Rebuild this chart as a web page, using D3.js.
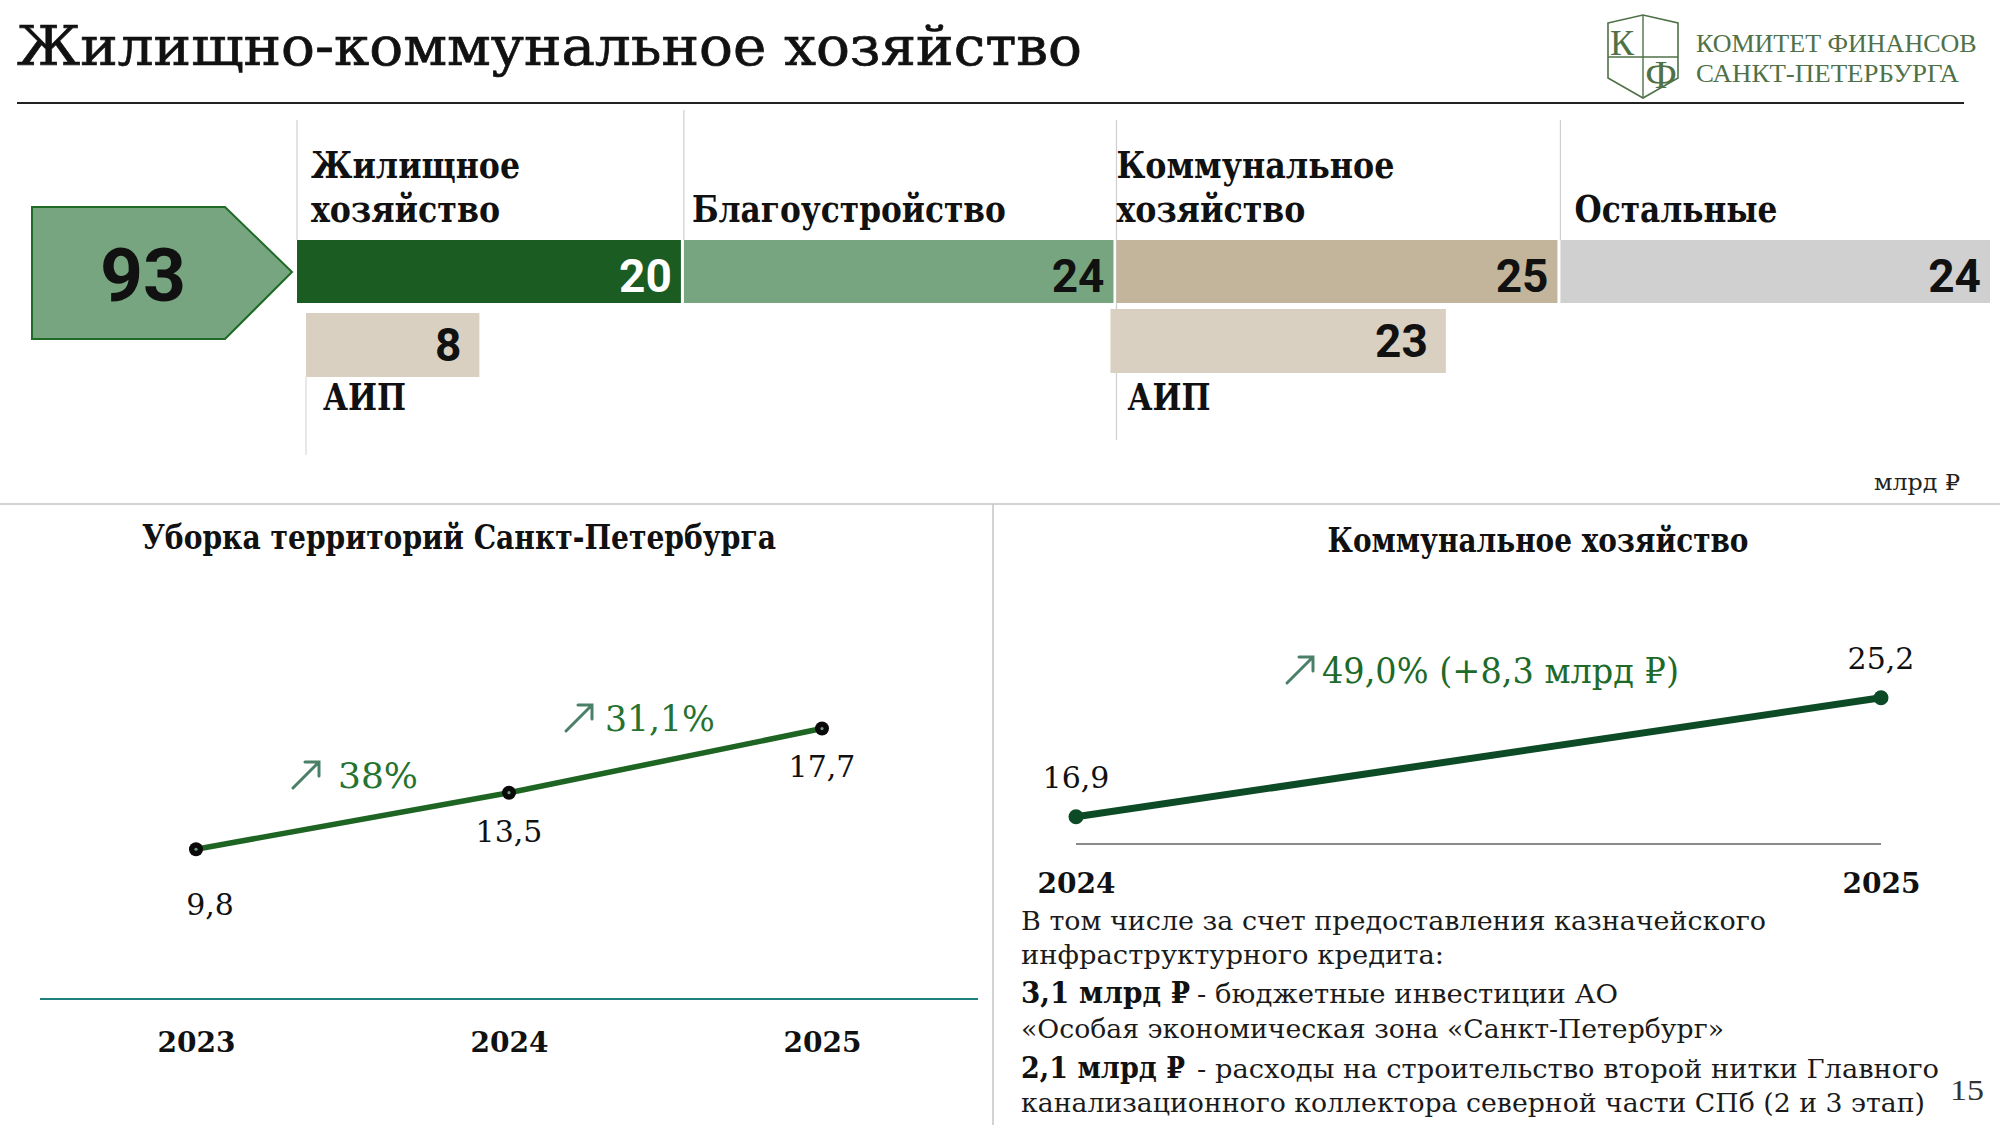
<!DOCTYPE html>
<html><head><meta charset="utf-8">
<script src="https://cdn.jsdelivr.net/npm/d3@7"></script>
<style>html,body{margin:0;padding:0;background:#fff;overflow:hidden}</style>
</head><body>
<svg id="c" width="2000" height="1125"></svg>
<script>
// ---------------- DATA ----------------
const pageTitle = "Жилищно-коммунальное хозяйство";
const logoLines = ["КОМИТЕТ ФИНАНСОВ", "САНКТ-ПЕТЕРБУРГА"];
const totalValue = 93;
const categories = [["Жилищное", "хозяйство"], ["Благоустройство"], ["Коммунальное", "хозяйство"], ["Остальные"]];
const categoryValues = [20, 24, 25, 24];
const aipCategoryIndex = [0, 2];
const aipValues = [8, 23];
const aipLabel = "АИП";
const unitLabel = "млрд ₽";

const cleaningTitle = "Уборка территорий Санкт-Петербурга";
const cleaningYears = ["2023", "2024", "2025"];
const cleaningValues = [9.8, 13.5, 17.7];
const cleaningGrowth = ["38%", "31,1%"];

const communalTitle = "Коммунальное хозяйство";
const communalYears = ["2024", "2025"];
const communalValues = [16.9, 25.2];
const communalGrowth = "49,0% (+8,3 млрд ₽)";
const noteLines = [
  ["", "В том числе за счет предоставления казначейского"],
  ["", "инфраструктурного кредита:"],
  ["3,1 млрд ₽", "- бюджетные инвестиции АО"],
  ["", "«Особая экономическая зона «Санкт-Петербург»"],
  ["2,1 млрд ₽", "- расходы на строительство второй нитки Главного"],
  ["", "канализационного коллектора северной части СПб (2 и 3 этап)"]
];
const pageNumber = "15";

// ---------------- HELPERS ----------------
const SERIF = "'DejaVu Serif', 'Liberation Serif', serif";
const TIMES = "'Liberation Serif', 'DejaVu Serif', serif";
const SANS = "Roboto, 'Noto Sans', sans-serif";
const ru = d3.formatLocale({decimal: ",", thousands: " ", grouping: [3], currency: ["", " ₽"]});
const fmt1 = ru.format(".1f");
const svg = d3.select("#c");

function txt(g, s, x, y, o) {
  const t = g.append("text").attr("x", x).attr("y", y).text(s)
    .style("font-family", o.family || SERIF)
    .style("font-size", o.size + "px")
    .style("font-weight", o.weight || 400)
    .attr("fill", o.fill || "#111")
    .attr("text-anchor", o.anchor || "start");
  if (o.stroke) t.attr("stroke", o.fill || "#111").attr("stroke-width", o.stroke);
  if (o.width) {
    const w = t.node().getComputedTextLength();
    if (Math.abs(w - o.width) > 1.5) t.attr("textLength", o.width).attr("lengthAdjust", "spacingAndGlyphs");
  }
  return t;
}

// ---------------- HEADER ----------------
txt(svg, pageTitle, 17, 65, {size: 55, width: 1065, fill: "#111", stroke: 0.7});
svg.append("line").attr("x1", 17).attr("x2", 1964).attr("y1", 103).attr("y2", 103)
  .attr("stroke", "#222").attr("stroke-width", 2);

// logo
const logo = svg.append("g");
const lc = "#4f7148";
logo.append("path")
  .attr("d", "M1608,23 L1643,15 L1678,23 L1678,78 L1643,98 L1608,78 Z")
  .attr("fill", "none").attr("stroke", lc).attr("stroke-width", 1.6);
logo.append("line").attr("x1", 1643).attr("x2", 1643).attr("y1", 15).attr("y2", 98).attr("stroke", lc).attr("stroke-width", 1.4);
logo.append("line").attr("x1", 1608).attr("x2", 1678).attr("y1", 57).attr("y2", 57).attr("stroke", lc).attr("stroke-width", 1.4);
txt(logo, "К", 1610, 55, {size: 36, family: TIMES, fill: lc});
txt(logo, "Ф", 1661, 88, {size: 40, family: TIMES, fill: lc, anchor: "middle"});
txt(logo, logoLines[0], 1696, 52, {size: 26, family: TIMES, fill: lc, width: 282});
txt(logo, logoLines[1], 1696, 82, {size: 26, family: TIMES, fill: lc, width: 263});

// ---------------- TOP STRUCTURE ----------------
const topG = svg.append("g");
// total arrow
topG.append("path")
  .attr("d", "M32,207 L225,207 L292,272 L225,339 L32,339 Z")
  .attr("fill", "#76a580").attr("stroke", "#1f6a27").attr("stroke-width", 2);
txt(topG, String(totalValue), 143, 301, {size: 75, family: SANS, weight: 700, anchor: "middle", fill: "#111"});

const barX0 = 297, barX1 = 1993, barBase = 158.6, barGap = 3, barY = 240, barH = 63;
const cum = d3.cumsum(categoryValues);
const xVal = d3.scaleLinear().domain([0, d3.sum(categoryValues)])
  .range([0, (barX1 - barX0) - categoryValues.length * barBase]);
const barColors = ["#1a5c21", "#76a580", "#c3b59b", "#d0d0d0"];
const valColors = ["#ffffff", "#111", "#111", "#111"];
const labelDx = [14, 8, 0, 14];
const sepTop = [120, 110, 120, 120];
const sepBottom = [barY, barY, 440, barY];
const barData = categoryValues.map((v, i) => ({
  v, i, x: barX0 + i * barBase + xVal(cum[i] - v), w: barBase + xVal(v) - barGap
}));

topG.selectAll("line.sep").data(barData).enter().append("line")
  .attr("x1", d => d.x).attr("x2", d => d.x)
  .attr("y1", d => sepTop[d.i]).attr("y2", d => sepBottom[d.i])
  .attr("stroke", "#cfcfcf").attr("stroke-width", 1.2);

topG.selectAll("rect.bar").data(barData).enter().append("rect")
  .attr("x", d => d.x).attr("y", barY).attr("width", d => d.w).attr("height", barH)
  .attr("fill", d => barColors[d.i]);

barData.forEach(d => {
  txt(topG, String(d.v), d.x + d.w - 9, barY + 52, {size: 46, family: SANS, weight: 700, anchor: "end", fill: valColors[d.i]});
  const lines = categories[d.i];
  const lw = [[209, 189], [314], [278, 189], [203]][d.i];
  lines.forEach((s, k) => {
    const base = 222 - (lines.length - 1 - k) * 44;
    txt(topG, s, d.x + labelDx[d.i], base, {size: 37, weight: 700, width: lw[k]});
  });
});

// AIP sub-bars
const aipW = d3.scaleLinear().domain([0, 25]).range([87, 357]);
const aipDx = [9, -6], aipTop = [313, 309];
aipValues.forEach((v, k) => {
  const b = barData[aipCategoryIndex[k]];
  const x = b.x + aipDx[k], y = aipTop[k], w = aipW(v);
  if (k === 0) topG.append("line").attr("x1", x).attr("x2", x).attr("y1", y + 64).attr("y2", 455)
    .attr("stroke", "#d8d8d8").attr("stroke-width", 1.2);
  topG.append("rect").attr("x", x).attr("y", y).attr("width", w).attr("height", 64).attr("fill", "#d9d0c1");
  txt(topG, String(v), x + w - 18, y + 48, {size: 46, family: SANS, weight: 700, anchor: "end"});
  txt(topG, aipLabel, x + 17, 410, {size: 37, weight: 700, width: 83});
});

txt(svg, unitLabel, 1960, 490, {size: 22, anchor: "end", fill: "#222", width: 86});

// section separators
svg.append("line").attr("x1", 0).attr("x2", 2000).attr("y1", 504).attr("y2", 504).attr("stroke", "#c4c4c4").attr("stroke-width", 1.5);
svg.append("line").attr("x1", 993).attr("x2", 993).attr("y1", 504).attr("y2", 1125).attr("stroke", "#c4c4c4").attr("stroke-width", 1.5);

// ---------------- LEFT LINE CHART ----------------
const L = svg.append("g");
txt(L, cleaningTitle, 142, 549, {size: 33, weight: 700, width: 634});
const xL = d3.scalePoint().domain(cleaningYears).range([196, 822]);
const yL = d3.scaleLinear().domain([0, 20]).range([999, 693.4]);
L.append("line").attr("x1", 40).attr("x2", 978).attr("y1", yL(0)).attr("y2", yL(0))
  .attr("stroke", "#1f7f7c").attr("stroke-width", 2.2);
const axL = L.append("g").attr("transform", `translate(0,${yL(0)})`)
  .call(d3.axisBottom(xL).tickSize(0));
axL.select(".domain").remove();
axL.selectAll("text").attr("y", 53).attr("dy", 0)
  .style("font-family", SERIF).style("font-size", "28px").style("font-weight", 700).attr("fill", "#111");

const ptsL = cleaningYears.map((y, i) => [xL(y), yL(cleaningValues[i])]);
L.append("path").attr("d", d3.line()(ptsL)).attr("fill", "none")
  .attr("stroke", "#1e6422").attr("stroke-width", 5.5).attr("stroke-linecap", "round");
L.selectAll("circle.m").data(ptsL).enter().append("circle")
  .attr("cx", d => d[0]).attr("cy", d => d[1]).attr("r", 7).attr("fill", "#0a0a0a");
L.selectAll("circle.c").data(ptsL).enter().append("circle")
  .attr("cx", d => d[0]).attr("cy", d => d[1]).attr("r", 1.6).attr("fill", "#6f9a80");
const valDyL = [66, 49, 48], valDxL = [14, 0, 0];
cleaningValues.forEach((v, i) => {
  txt(L, fmt1(v), ptsL[i][0] + valDxL[i], ptsL[i][1] + valDyL[i], {size: 30, anchor: "middle", fill: "#111"});
});

function growArrow(g, x, y) {
  g.append("path")
    .attr("d", `M${x},${y} L${x + 26},${y - 26} M${x + 12},${y - 26} L${x + 26},${y - 26} L${x + 26},${y - 12}`)
    .attr("fill", "none").attr("stroke", "#4a8068").attr("stroke-width", 3).attr("stroke-linecap", "round");
}
const growPosL = [{ax: 293, tx: 338, y: 788, w: 79}, {ax: 566, tx: 605, y: 731, w: 110}];
cleaningGrowth.forEach((s, i) => {
  growArrow(L, growPosL[i].ax, growPosL[i].y);
  txt(L, s, growPosL[i].tx, growPosL[i].y, {size: 36, fill: "#267230", width: growPosL[i].w});
});

// ---------------- RIGHT LINE CHART ----------------
const R = svg.append("g");
txt(R, communalTitle, 1538, 552, {size: 33, weight: 700, anchor: "middle", width: 421});
const xR = d3.scalePoint().domain(communalYears).range([1076, 1881]);
const yR = d3.scaleLinear().domain([15, 27]).range([844, 672]);
R.append("line").attr("x1", xR(communalYears[0])).attr("x2", xR(communalYears[1]))
  .attr("y1", yR(15)).attr("y2", yR(15)).attr("stroke", "#8a8a8a").attr("stroke-width", 2);
const axR = R.append("g").attr("transform", `translate(0,${yR(15)})`)
  .call(d3.axisBottom(xR).tickSize(0));
axR.select(".domain").remove();
axR.selectAll("text").attr("y", 49).attr("dy", 0)
  .style("font-family", SERIF).style("font-size", "28px").style("font-weight", 700).attr("fill", "#111");
const ptsR = communalYears.map((y, i) => [xR(y), yR(communalValues[i])]);
R.append("path").attr("d", d3.line()(ptsR)).attr("fill", "none")
  .attr("stroke", "#0d4a26").attr("stroke-width", 7);
R.selectAll("circle").data(ptsR).enter().append("circle")
  .attr("cx", d => d[0]).attr("cy", d => d[1]).attr("r", 7.5).attr("fill", "#0d4a26");
communalValues.forEach((v, i) => {
  txt(R, fmt1(v), ptsR[i][0], ptsR[i][1] - 29, {size: 30, anchor: "middle", fill: "#111"});
});
growArrow(R, 1287, 683);
txt(R, communalGrowth, 1322, 683, {size: 36, fill: "#1e6a2a", width: 357});

// notes
const noteBase = [930, 964, 1003, 1038, 1078, 1112];
const noteW = [[0, 745], [0, 423], [169, 421], [0, 703], [164, 742], [0, 904]];
noteLines.forEach((ln, i) => {
  if (ln[0]) {
    txt(R, ln[0], 1021, noteBase[i], {size: 30, weight: 700, width: noteW[i][0]});
    txt(R, ln[1], 1197, noteBase[i], {size: 26, fill: "#1a1a1a", width: noteW[i][1]});
  } else {
    txt(R, ln[1], 1021, noteBase[i], {size: 26, fill: "#1a1a1a", width: noteW[i][1]});
  }
});
txt(svg, pageNumber, 1950, 1100, {size: 30, family: TIMES, fill: "#333", width: 34});
</script>
</body></html>
